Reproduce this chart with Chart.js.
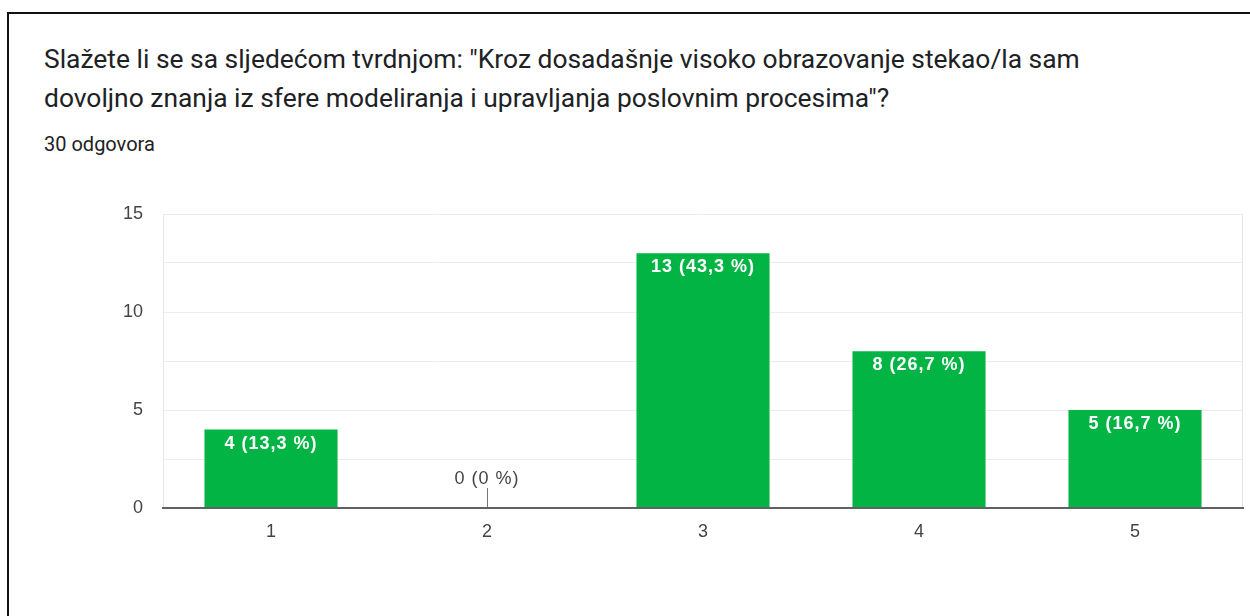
<!DOCTYPE html>
<html lang="hr">
  <head>
    <meta charset="UTF-8" />
    <title>Slažete li se sa sljedećom tvrdnjom</title>
    <script src="https://cdn.jsdelivr.net/npm/chart.js@4.4.1/dist/chart.umd.min.js"></script>
    <style>
      html, body { margin: 0; padding: 0; background: #fff; width: 1250px; height: 616px; overflow: hidden; }
      .frame { position: absolute; left: 7px; top: 12px; width: 1300px; height: 700px; border: 2px solid #111; }
      .title { position: absolute; left: 44px; top: 40px; font-family: Roboto, 'Noto Sans', sans-serif; font-size: 26.4px; line-height: 39px; color: #202124; white-space: nowrap; }
      .sub { position: absolute; left: 44px; top: 131px; font-family: Roboto, 'Noto Sans', sans-serif; font-size: 20px; line-height: 26px; color: #202124; }
      .chart { position: absolute; left: 0; top: 180px; width: 1250px; height: 420px; }
    </style>
  </head>
  <body>
    <div class="frame"></div>
    <div class="title">Slažete li se sa sljedećom tvrdnjom: "Kroz dosadašnje visoko obrazovanje stekao/la sam<br />dovoljno znanja iz sfere modeliranja i upravljanja poslovnim procesima"?</div>
    <div class="sub">30 odgovora</div>
    <div class="chart"><canvas id="answers" width="1250" height="420"></canvas></div>

    <script>
      const categories = ['1', '2', '3', '4', '5']
      const counts = [4, 0, 13, 8, 5]
      const percents = ['13,3', '0', '43,3', '26,7', '16,7']
      const yLabels = [0, 5, 10, 15]

      const GREEN = '#02b444'
      const FONT = "'Liberation Sans', Arial, sans-serif"

      // value labels on the bars + light right edge of the plot
      const barLabels = {
        id: 'barLabels',
        beforeDatasetsDraw(chart) {
          const { ctx, chartArea } = chart
          ctx.save()
          ctx.strokeStyle = '#e6e6e6'
          ctx.lineWidth = 1
          ctx.beginPath()
          ctx.moveTo(chartArea.right - 0.5, chartArea.top)
          ctx.lineTo(chartArea.right - 0.5, chartArea.bottom)
          ctx.stroke()
          ctx.restore()
        },
        afterDatasetsDraw(chart) {
          const { ctx } = chart
          const meta = chart.getDatasetMeta(0)
          ctx.save()
          ctx.textAlign = 'center'
          ctx.textBaseline = 'middle'
          ctx.letterSpacing = '1px'
          meta.data.forEach((bar, i) => {
            const text = counts[i] + ' (' + percents[i] + ' %)'
            if (counts[i] > 0) {
              ctx.font = 'bold 18px ' + FONT
              ctx.fillStyle = '#fff'
              ctx.fillText(text, bar.x, bar.y + 14)
            } else {
              ctx.font = '18px ' + FONT
              ctx.fillStyle = '#444'
              ctx.fillText(text, bar.x, bar.y - 29)
              ctx.strokeStyle = '#777'
              ctx.lineWidth = 1
              ctx.beginPath()
              ctx.moveTo(Math.round(bar.x) + 0.5, bar.y - 20)
              ctx.lineTo(Math.round(bar.x) + 0.5, bar.y)
              ctx.stroke()
            }
          })
          ctx.restore()
        },
      }

      new Chart(document.getElementById('answers'), {
        type: 'bar',
        data: {
          labels: categories,
          datasets: [
            {
              data: counts,
              backgroundColor: GREEN,
              borderWidth: 0,
              categoryPercentage: 1,
              barPercentage: 0.616,
            },
          ],
        },
        options: {
          responsive: false,
          animation: false,
          layout: { padding: { left: 0, right: 7, top: 34, bottom: 0 } },
          plugins: {
            legend: { display: false },
            tooltip: { enabled: false },
          },
          scales: {
            x: {
              grid: { display: false, drawTicks: false },
              border: { display: true, color: '#616161', width: 2, z: 1 },
              ticks: { color: '#444', font: { family: FONT, size: 18 }, padding: 13 },
              afterFit(scale) {
                scale.height = 92
              },
            },
            y: {
              min: 0,
              max: 15,
              ticks: {
                stepSize: 2.5,
                color: '#444',
                font: { family: FONT, size: 18 },
                padding: 20,
                callback: (v) => (yLabels.includes(v) ? String(v) : ''),
              },
              grid: { color: '#ececec', lineWidth: 1, drawTicks: false },
              border: { display: true, color: '#e6e6e6', width: 1 },
              afterFit(scale) {
                scale.width = 163
                scale.paddingTop = 0
                scale.paddingBottom = 0
              },
            },
          },
        },
        plugins: [barLabels],
      })
    </script>
  </body>
</html>
